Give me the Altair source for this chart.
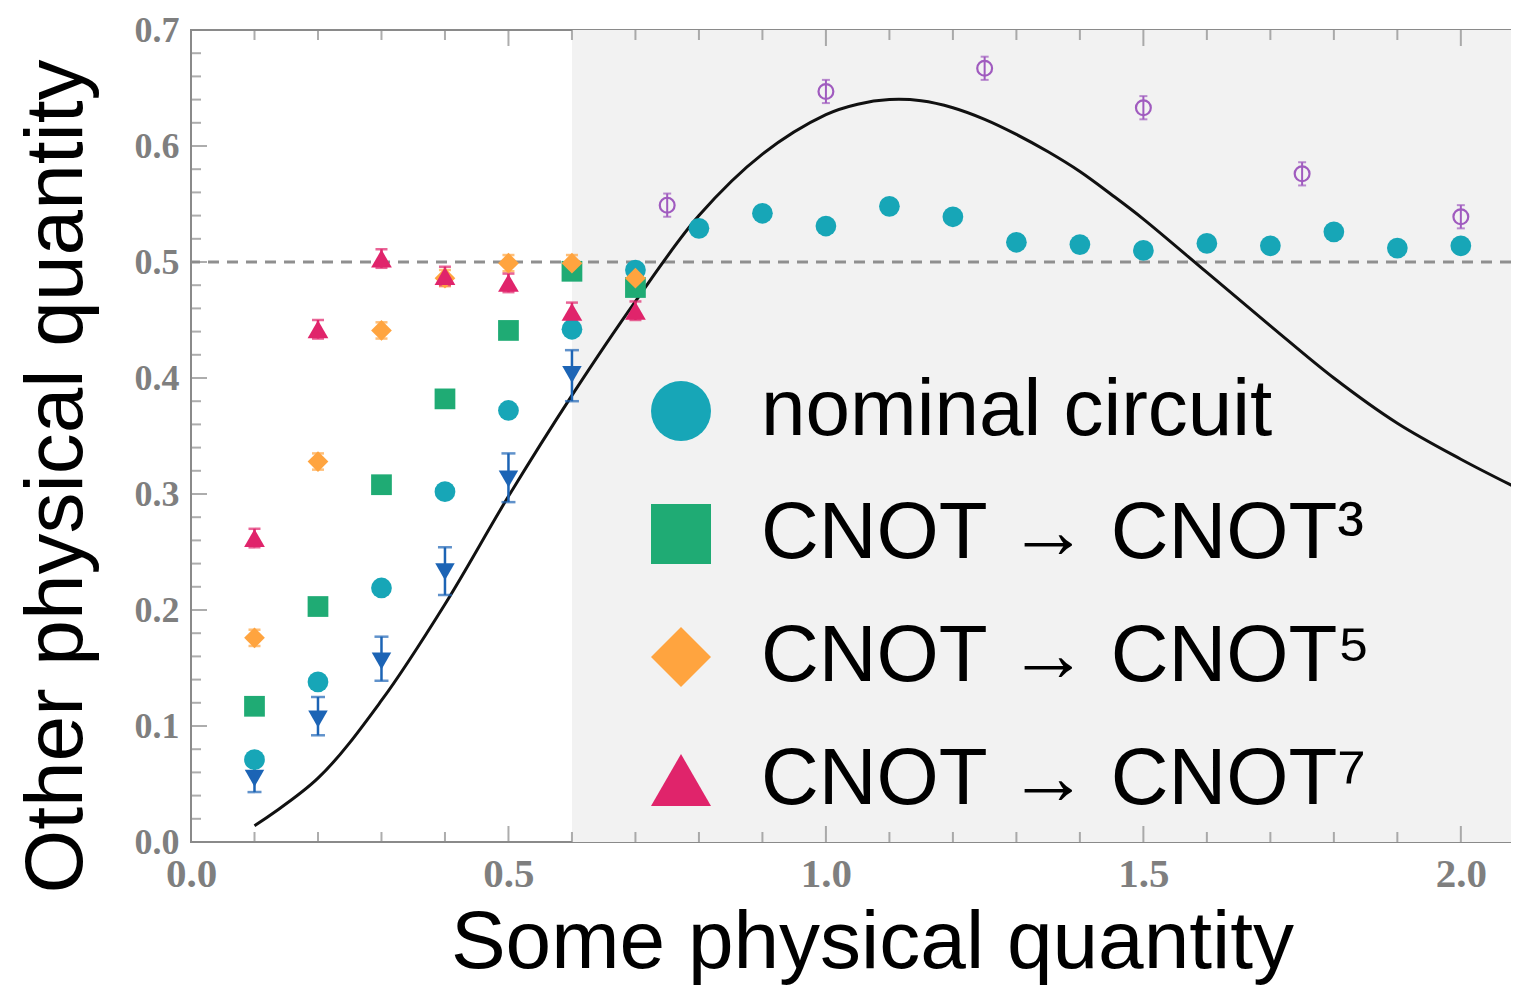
import altair as alt
import pandas as pd

# ---------------- data ----------------
nominal_x = [0.1, 0.2, 0.3, 0.4, 0.5, 0.6, 0.7, 0.8, 0.9, 1.0, 1.1, 1.2, 1.3, 1.4, 1.5, 1.6, 1.7, 1.8, 1.9, 2.0]
nominal_y = [0.071, 0.138, 0.219, 0.302, 0.372, 0.442, 0.493, 0.529, 0.542, 0.531, 0.548, 0.539,
             0.517, 0.515, 0.510, 0.516, 0.514, 0.526, 0.512, 0.514]

low_x = [0.1, 0.2, 0.3, 0.4, 0.5, 0.6, 0.7]
cnot3_y = [0.117, 0.203, 0.308, 0.382, 0.441, 0.492, 0.478]
cnot5_y = [0.176, 0.328, 0.441, 0.486, 0.499, 0.499, 0.486]
cnot5_err = [0.007, 0.007, 0.007, 0.007, 0.007, 0.007, 0.007]
cnot7_y = [0.262, 0.442, 0.503, 0.488, 0.482, 0.457, 0.458]
cnot7_err = [0.008, 0.008, 0.008, 0.008, 0.008, 0.008, 0.008]

blue_x = [0.1, 0.2, 0.3, 0.4, 0.5, 0.6]
blue_y = [0.055, 0.106, 0.156, 0.233, 0.313, 0.403]
blue_lo = [0.043, 0.092, 0.139, 0.213, 0.293, 0.380]
blue_hi = [0.068, 0.125, 0.177, 0.254, 0.335, 0.424]

purple_x = [0.75, 1.0, 1.25, 1.5, 1.75, 2.0]
purple_y = [0.549, 0.647, 0.667, 0.633, 0.576, 0.539]
purple_err = [0.010, 0.010, 0.010, 0.010, 0.010, 0.010]

curve_x = [0.1, 0.2, 0.3, 0.4, 0.5, 0.6, 0.7, 0.8, 0.9, 1.0, 1.05, 1.1, 1.15, 1.2, 1.25, 1.3,
           1.35, 1.4, 1.45, 1.5, 1.6, 1.7, 1.8, 1.9, 2.0, 2.1]
curve_y = [0.014, 0.055, 0.122, 0.205, 0.298, 0.385, 0.466, 0.540, 0.593, 0.627, 0.636, 0.640,
           0.639, 0.633, 0.623, 0.610, 0.595, 0.578, 0.558, 0.537, 0.491, 0.445, 0.400, 0.361,
           0.330, 0.302]

series_names = ["nominal circuit", "CNOT → CNOT³", "CNOT → CNOT⁵", "CNOT → CNOT⁷"]
series_colors = ["#17a6b7", "#1fab74", "#ffa43f", "#e0246b"]
series_shapes = ["circle", "square", "diamond", "triangle-up"]

shade_start = [0.6]
shade_end = [2.1]
reference_level = 0.5

x_major = [0.0, 0.5, 1.0, 1.5, 2.0]
x_minor = [0.1, 0.2, 0.3, 0.4, 0.6, 0.7, 0.8, 0.9, 1.1, 1.2, 1.3, 1.4, 1.6, 1.7, 1.8, 1.9, 2.1]
y_major = [0.0, 0.1, 0.2, 0.3, 0.4, 0.5, 0.6, 0.7]
y_minor = [round(0.02 * i, 2) for i in range(36) if i % 5 != 0]

X_MAX = 2.079
Y_MAX = 0.7

# ---------------- frames ----------------
pts = pd.concat([
    pd.DataFrame({"x": nominal_x, "y": nominal_y, "series": series_names[0]}),
    pd.DataFrame({"x": low_x, "y": cnot3_y, "series": series_names[1]}),
    pd.DataFrame({"x": low_x, "y": cnot5_y, "series": series_names[2]}),
    pd.DataFrame({"x": low_x, "y": cnot7_y, "series": series_names[3]}),
], ignore_index=True)

err5 = pd.DataFrame({"x": low_x, "lo": [a - b for a, b in zip(cnot5_y, cnot5_err)],
                     "hi": [a + b for a, b in zip(cnot5_y, cnot5_err)]})
err7 = pd.DataFrame({"x": low_x, "lo": [a - b for a, b in zip(cnot7_y, cnot7_err)],
                     "hi": [a + b for a, b in zip(cnot7_y, cnot7_err)]})
blue = pd.DataFrame({"x": blue_x, "y": blue_y, "lo": blue_lo, "hi": blue_hi})
purple = pd.DataFrame({"x": purple_x, "y": purple_y,
                       "lo": [a - b for a, b in zip(purple_y, purple_err)],
                       "hi": [a + b for a, b in zip(purple_y, purple_err)]})
curve = pd.DataFrame({"x": curve_x, "y": curve_y})
shade = pd.DataFrame({"x0": shade_start, "x1": shade_end})

xs = alt.Scale(domain=[0, X_MAX], nice=False, zero=False)
ys = alt.Scale(domain=[0, Y_MAX], nice=False, zero=False)

x_axis = alt.Axis(values=x_major, format=".1f", labelFont="Liberation Serif", labelFontWeight="bold",
                  labelFontSize=41, labelColor="#7f7f7f", ticks=False, domain=False, grid=False,
                  labelPadding=12, labelFlush=False, title="Some physical quantity",
                  titleFont="Liberation Sans", titleFontSize=82, titleFontWeight="normal",
                  titleColor="black", titlePadding=8, titleX=681)
y_axis = alt.Axis(values=y_major, format=".1f", labelFont="Liberation Serif", labelFontWeight="bold",
                  labelFontSize=36, labelColor="#7f7f7f", ticks=False, domain=False, grid=False,
                  labelPadding=12, labelFlush=False, title="Other physical quantity",
                  titleFont="Liberation Sans", titleFontSize=82, titleFontWeight="normal",
                  titleColor="black", titlePadding=36, titleY=446)

shade_layer = alt.Chart(shade).mark_rect(color="#f2f2f2", clip=True).encode(
    x=alt.X("x0:Q", scale=xs, axis=x_axis), x2="x1:Q",
    y=alt.datum(0, scale=ys, axis=y_axis), y2=alt.datum(Y_MAX))

ref_layer = alt.Chart(shade).mark_rule(color="#8f8f8f", strokeWidth=3, strokeDash=[11, 8]).encode(
    y=alt.datum(reference_level))

curve_layer = alt.Chart(curve).mark_line(color="#111111", strokeWidth=3, interpolate="catmull-rom",
                                         clip=True).encode(x="x:Q", y="y:Q")


def err_layers(df, color, cap, width=2.5):
    bar = alt.Chart(df).mark_rule(color=color, strokeWidth=width).encode(x="x:Q", y="lo:Q", y2="hi:Q")
    lo = alt.Chart(df).mark_tick(color=color, orient="horizontal", size=cap, thickness=width).encode(
        x="x:Q", y="lo:Q")
    hi = alt.Chart(df).mark_tick(color=color, orient="horizontal", size=cap, thickness=width).encode(
        x="x:Q", y="hi:Q")
    return [bar, lo, hi]


blue_pts = alt.Chart(blue).mark_point(shape="triangle-down", filled=True, size=380, color="#1c64b5",
                                      opacity=1).encode(x="x:Q", y="y:Q")
purple_pts = alt.Chart(purple).mark_point(shape="circle", filled=False, size=220, color="#a05bbf",
                                          strokeWidth=2.2, opacity=1).encode(x="x:Q", y="y:Q")

main_pts = alt.Chart(pts).mark_point(filled=True, size=430, opacity=1).encode(
    x="x:Q", y="y:Q",
    color=alt.Color("series:N", scale=alt.Scale(domain=series_names, range=series_colors), title=None),
    shape=alt.Shape("series:N", scale=alt.Scale(domain=series_names, range=series_shapes), title=None),
)

tick_col = "#8a8a8a"
tx_major = pd.DataFrame({"v": x_major})
tx_minor = pd.DataFrame({"v": x_minor})
ty_major = pd.DataFrame({"v": y_major})
ty_minor = pd.DataFrame({"v": y_minor})

tick_layers = [
    alt.Chart(tx_major).mark_tick(orient="vertical", size=16, thickness=2, color=tick_col, yOffset=-8,
                                  clip=True).encode(x="v:Q", y=alt.datum(0)),
    alt.Chart(tx_minor).mark_tick(orient="vertical", size=10, thickness=2, color=tick_col, yOffset=-5,
                                  clip=True).encode(x="v:Q", y=alt.datum(0)),
    alt.Chart(tx_major).mark_tick(orient="vertical", size=16, thickness=2, color=tick_col, yOffset=8,
                                  clip=True).encode(x="v:Q", y=alt.datum(Y_MAX)),
    alt.Chart(tx_minor).mark_tick(orient="vertical", size=10, thickness=2, color=tick_col, yOffset=5,
                                  clip=True).encode(x="v:Q", y=alt.datum(Y_MAX)),
    alt.Chart(ty_major).mark_tick(orient="horizontal", size=16, thickness=2, color=tick_col, xOffset=8,
                                  clip=True).encode(y="v:Q", x=alt.datum(0)),
    alt.Chart(ty_minor).mark_tick(orient="horizontal", size=10, thickness=2, color=tick_col, xOffset=5,
                                  clip=True).encode(y="v:Q", x=alt.datum(0)),
]

layers = ([shade_layer, ref_layer] + tick_layers + [curve_layer]
          + err_layers(blue, "#1c64b5", 14) + [blue_pts]
          + err_layers(purple, "#a05bbf", 8, 2) + [purple_pts]
          + err_layers(err5, "#ffa43f", 12) + err_layers(err7, "#e0246b", 12)
          + [main_pts])

chart = alt.layer(*layers).properties(
    width=1320, height=812,
    autosize=alt.AutoSizeParams(type="none"),
    padding={"left": 183, "top": 22, "right": 0, "bottom": 150},
).configure_view(
    stroke="#8a8a8a", strokeWidth=2
).configure_legend(
    orient="none", legendX=450, legendY=341,
    symbolSize=3600, symbolStrokeWidth=0, labelFontSize=80, labelFont="Liberation Sans",
    labelColor="black", labelOffset=40, rowPadding=43, padding=0, labelLimit=1000,
)

chart.save("out.html", embed_options={"renderer": "svg", "actions": False})
